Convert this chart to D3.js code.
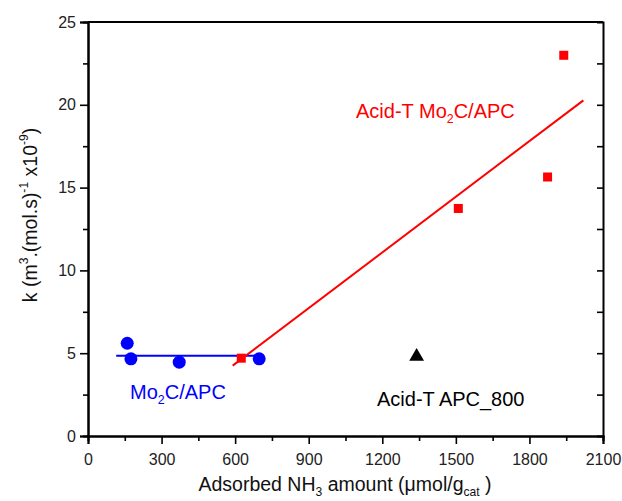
<!DOCTYPE html>
<html>
<head>
<meta charset="utf-8">
<script src="https://cdn.jsdelivr.net/npm/d3@7"></script>
<style>
  body { margin: 0; background: #fff; overflow: hidden; }
  svg { display: block; }
  text { font-family: "Liberation Sans", Arial, sans-serif; }
</style>
</head>
<body>
<div id="chart"></div>
<script>
// data
var moX = [160, 175, 372, 698];
var moY = [5.6, 4.66, 4.46, 4.66];
var acidX = [625, 1510, 1874, 1940];
var acidY = [4.7, 13.74, 15.64, 22.99];
var apcX = [1340];
var apcY = [4.8];
var moFit = [[115, 4.85], [700, 4.85]];
var acidFit = [[590, 4.25], [2020, 20.27]];
var xTicks = [0, 300, 600, 900, 1200, 1500, 1800, 2100];
var yTicks = [0, 5, 10, 15, 20, 25];

var OuterWidth = 622;
var OuterHeight = 501;
var margin = { left: 88, top: 22, right: 19, bottom: 65 };
var innerWidth = OuterWidth - margin.left - margin.right;
var innerHeight = OuterHeight - margin.top - margin.bottom;

var svg = d3.select('#chart').append('svg')
    .attr('width', OuterWidth)
    .attr('height', OuterHeight);

var g = svg.append('g')
    .attr('transform', 'translate(' + margin.left + ',' + margin.top + ')');

var xScale = d3.scaleLinear().domain([0, 2100]).range([0, innerWidth]);
var yScale = d3.scaleLinear().domain([0, 25]).range([innerHeight, 0]);

var minorX = d3.range(150, 2100, 300);
var minorY = d3.range(2.5, 25, 5);

// minor ticks
g.append('g')
    .attr('transform', 'translate(0,' + innerHeight + ')')
    .call(d3.axisBottom(xScale).tickValues(minorX).tickSize(5).tickFormat(''));
g.append('g')
    .call(d3.axisLeft(yScale).tickValues(minorY).tickSize(5).tickFormat(''));
// right axis, ticks pointing inward
g.append('g')
    .attr('transform', 'translate(' + innerWidth + ',0)')
    .call(d3.axisRight(yScale).tickValues(d3.range(2.5, 25, 2.5)).tickSize(-6).tickFormat(''));

var xAxisG = g.append('g')
    .attr('transform', 'translate(0,' + innerHeight + ')')
    .call(d3.axisBottom(xScale).tickValues(xTicks).tickFormat(d3.format('d')).tickSize(8).tickPadding(10));
var yAxisG = g.append('g')
    .call(d3.axisLeft(yScale).tickValues(yTicks).tickFormat(d3.format('d')).tickSize(8).tickPadding(4));

// top line
g.append('line')
    .attr('x1', 0).attr('x2', innerWidth)
    .attr('y1', 0).attr('y2', 0)
    .attr('stroke', '#000').attr('stroke-width', 2);

g.selectAll('.domain').attr('stroke', '#000').attr('stroke-width', 2);
g.selectAll('.tick line').attr('stroke', '#000').attr('stroke-width', 1.6);
g.selectAll('.tick text')
    .style('font-size', '16px')
    .style('font-family', '"Liberation Sans", Arial, sans-serif')
    .attr('fill', '#222');

var line = d3.line()
    .x(function (d) { return xScale(d[0]); })
    .y(function (d) { return yScale(d[1]); });

g.append('path').datum(moFit)
    .attr('d', line).attr('fill', 'none')
    .attr('stroke', '#0000ff').attr('stroke-width', 2);
g.append('path').datum(acidFit)
    .attr('d', line).attr('fill', 'none')
    .attr('stroke', '#ff0000').attr('stroke-width', 2);

g.selectAll('.mo')
    .data(moX)
    .enter()
    .append('circle')
    .attr('cx', function (d) { return xScale(d); })
    .attr('cy', function (d, i) { return yScale(moY[i]); })
    .attr('r', 6.5)
    .attr('fill', '#0000ff');

g.selectAll('.acid')
    .data(acidX)
    .enter()
    .append('rect')
    .attr('x', function (d) { return xScale(d) - 4.5; })
    .attr('y', function (d, i) { return yScale(acidY[i]) - 4.5; })
    .attr('width', 9)
    .attr('height', 9)
    .attr('fill', '#ff0000');

g.selectAll('.apc')
    .data(apcX)
    .enter()
    .append('path')
    .attr('transform', function (d, i) {
        return 'translate(' + xScale(d) + ',' + yScale(apcY[i]) + ')';
    })
    .attr('d', d3.symbol().type(d3.symbolTriangle).size(95))
    .attr('fill', '#000');

// labels with sub/superscripts
function richText(parent, x, y, parts, size, color) {
    var t = parent.append('text')
        .attr('x', x).attr('y', y)
        .style('font-size', size + 'px')
        .attr('fill', color);
    parts.forEach(function (p) {
        var s = t.append('tspan').text(p[0]);
        if (p[1] === 'sub') s.style('font-size', (size * 0.62) + 'px').attr('dy', size * 0.25);
        if (p[1] === 'sup') s.style('font-size', (size * 0.62) + 'px').attr('dy', -size * 0.45);
        if (p[1] === 'subEnd') s.attr('dy', -size * 0.25);
        if (p[1] === 'supEnd') s.attr('dy', size * 0.45);
    });
    return t;
}

richText(svg, 356, 118, [['Acid-T Mo'], ['2', 'sub'], ['C/APC', 'subEnd']], 20, '#ff0000');
richText(svg, 130, 399, [['Mo'], ['2', 'sub'], ['C/APC', 'subEnd']], 20, '#0000ff');
richText(svg, 377, 406, [['Acid-T APC_800']], 20, '#000');

richText(svg, 345, 491, [['Adsorbed NH'], ['3', 'sub'], [' amount (\u03bcmol/g', 'subEnd'], ['cat', 'sub'], [' )', 'subEnd']], 19.5, '#111')
    .attr('text-anchor', 'middle');

richText(svg.append('g').attr('transform', 'translate(37,215) rotate(-90)'), 0, 0,
    [['k (m'], ['3', 'sup'], ['.(mol.s)', 'supEnd'], ['-1', 'sup'], [' x10', 'supEnd'], ['-9', 'sup'], [')', 'supEnd']], 19.5, '#111')
    .attr('text-anchor', 'middle');
</script>
</body>
</html>
